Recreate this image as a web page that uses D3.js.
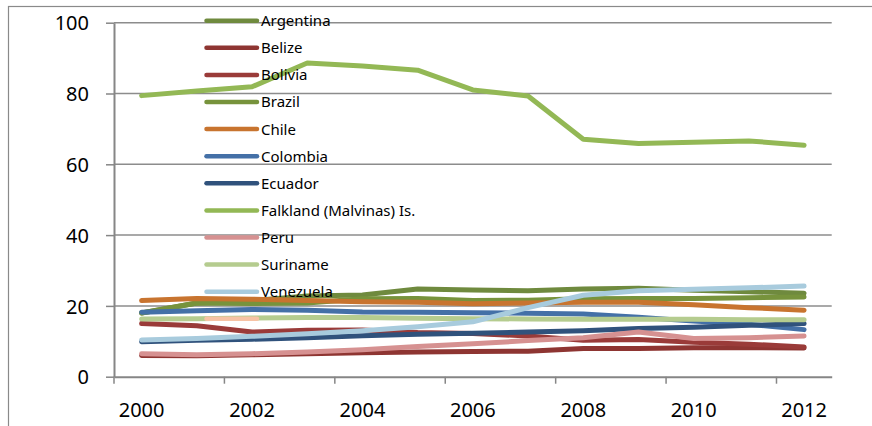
<!DOCTYPE html>
<html>
<head>
<meta charset="utf-8">
<script src="https://cdn.jsdelivr.net/npm/d3@7"></script>
<style>
  html, body { margin: 0; padding: 0; background: #fff; }
  svg { display: block; }
</style>
</head>
<body>
<svg id="chart" width="872" height="426"></svg>
<script>
// ---- data ----
const years = [2000,2001,2002,2003,2004,2005,2006,2007,2008,2009,2010,2011,2012];
const yTicks = [0,20,40,60,80,100];
const xLabelYears = [2000,2002,2004,2006,2008,2010,2012];

const seriesNames = ["Argentina","Belize","Bolivia","Brazil","Chile","Colombia","Ecuador","Falkland (Malvinas) Is.","Peru","Suriname","Venezuela",""];
const seriesColors = ["#6F8A3E","#8E3532","#9A3B39","#77933C","#C8742F","#4470A7","#30527C","#93B855","#D69191","#B5CC8F","#A8CBDD","#F7C3A5"];

const argentina = [18.0,20.8,21.5,22.8,23.1,24.8,24.5,24.3,24.8,25.0,24.4,24.0,23.6];
const belize    = [6.0,5.9,6.2,6.5,6.8,7.0,7.1,7.2,8.0,8.0,8.2,8.2,8.1];
const bolivia   = [15.0,14.4,12.6,13.1,13.2,12.5,12.2,11.5,10.3,10.5,9.7,9.2,8.4];
const brazil    = [18.0,20.8,20.7,20.8,22.0,22.1,21.5,21.6,22.0,22.1,22.1,22.3,22.5];
const chile     = [21.5,22.1,21.9,21.5,21.2,21.0,20.6,20.8,21.0,21.0,20.3,19.5,18.8];
const colombia  = [18.2,18.6,19.0,18.8,18.3,18.2,18.1,17.9,17.7,16.8,15.7,14.8,13.3];
const ecuador   = [9.9,10.3,10.6,11.0,11.6,12.0,12.3,12.6,13.0,13.6,14.0,14.5,15.0];
const falkland  = [79.4,80.7,81.9,88.6,87.8,86.6,81.0,79.3,67.1,65.9,66.2,66.6,65.4];
const peru      = [6.5,6.2,6.5,7.0,7.6,8.5,9.3,10.2,11.0,12.6,10.8,11.0,11.5];
const suriname  = [16.3,16.4,16.6,16.7,16.7,16.5,16.4,16.3,16.2,16.2,16.2,16.1,16.1];
const venezuela = [10.4,10.8,11.4,12.1,13.0,14.1,15.5,19.5,23.0,24.3,24.7,25.1,25.6];
const unnamed   = [];

const seriesValues = [argentina,belize,bolivia,brazil,chile,colombia,ecuador,falkland,peru,suriname,venezuela,unnamed];

// ---- chart ----
const svg = d3.select("#chart");
const plotLeft = 114, plotRight = 831.7, plotTop = 22.7, plotBottom = 376.7;

// outer frame
svg.append("rect")
  .attr("x", 8.5).attr("y", 6.5)
  .attr("width", 1000).attr("height", 1000)
  .attr("fill", "none").attr("stroke", "#8a8a8a").attr("stroke-width", 1.2);

const x = d3.scaleBand().domain(years).range([plotLeft, plotRight]).padding(0);
const xc = yr => x(yr) + x.bandwidth() / 2;
const y = d3.scaleLinear().domain([0, 100]).range([plotBottom, plotTop]);

// gridlines
svg.append("g").selectAll("line")
  .data(yTicks.filter(t => t > 0))
  .join("line")
  .attr("x1", plotLeft).attr("x2", plotRight)
  .attr("y1", d => y(d)).attr("y2", d => y(d))
  .attr("stroke", "#8c8c8c").attr("stroke-width", 1.5);

// y axis
const yAxis = svg.append("g")
  .attr("transform", `translate(${plotLeft},0)`)
  .call(d3.axisLeft(y).tickValues(yTicks).tickSize(8).tickPadding(17).tickSizeOuter(0));
yAxis.select(".domain").attr("stroke", "#868686").attr("stroke-width", 2);
yAxis.selectAll(".tick line").attr("stroke", "#868686").attr("stroke-width", 1.5);
yAxis.selectAll(".tick text")
  .attr("font-family", "'Noto Sans', sans-serif").attr("font-size", 20)
  .attr("fill", "#000").attr("dy", "0.36em");

// x axis (labels centred in categories)
const xAxis = svg.append("g")
  .attr("transform", `translate(0,${plotBottom})`)
  .call(d3.axisBottom(x).tickValues(xLabelYears).tickSize(0).tickPadding(0).tickSizeOuter(0));
xAxis.select(".domain").attr("stroke", "#868686").attr("stroke-width", 2);
xAxis.selectAll(".tick text")
  .attr("font-family", "'Noto Sans', sans-serif").attr("font-size", 20)
  .attr("fill", "#000").attr("dy", null).attr("y", 40.3);
// tick marks at category boundaries
svg.append("g").selectAll("line")
  .data(xLabelYears)
  .join("line")
  .attr("x1", d => x(d)).attr("x2", d => x(d))
  .attr("y1", plotBottom).attr("y2", plotBottom + 7)
  .attr("stroke", "#868686").attr("stroke-width", 1.5);

// lines
const line = d3.line()
  .defined(d => d.v != null)
  .x(d => xc(d.year))
  .y(d => y(d.v));

const seriesData = seriesNames.map((name, i) => ({
  name, color: seriesColors[i],
  points: seriesValues[i].map((v, j) => ({ year: years[j], v }))
}));

svg.append("g").selectAll("path")
  .data(seriesData.filter(s => s.points.length))
  .join("path")
  .attr("d", s => line(s.points))
  .attr("fill", "none")
  .attr("stroke", s => s.color)
  .attr("stroke-width", 5)
  .attr("stroke-linecap", "round")
  .attr("stroke-linejoin", "round");

// legend (overlapping the plot)
const legendY0 = 20.7, legendStep = 27.1;
const lg = svg.append("g").selectAll("g")
  .data(seriesData)
  .join("g")
  .attr("transform", (d, i) => `translate(0,${legendY0 + i * legendStep})`);
lg.append("line")
  .attr("x1", 206.5).attr("x2", 257)
  .attr("stroke", d => d.color).attr("stroke-width", 4.5)
  .attr("stroke-linecap", "round");
lg.append("text")
  .attr("x", 261).attr("dy", "0.36em")
  .attr("font-family", "'Noto Sans', sans-serif").attr("font-size", 15)
  .attr("fill", "#000")
  .text(d => d.name);
</script>
</body>
</html>
